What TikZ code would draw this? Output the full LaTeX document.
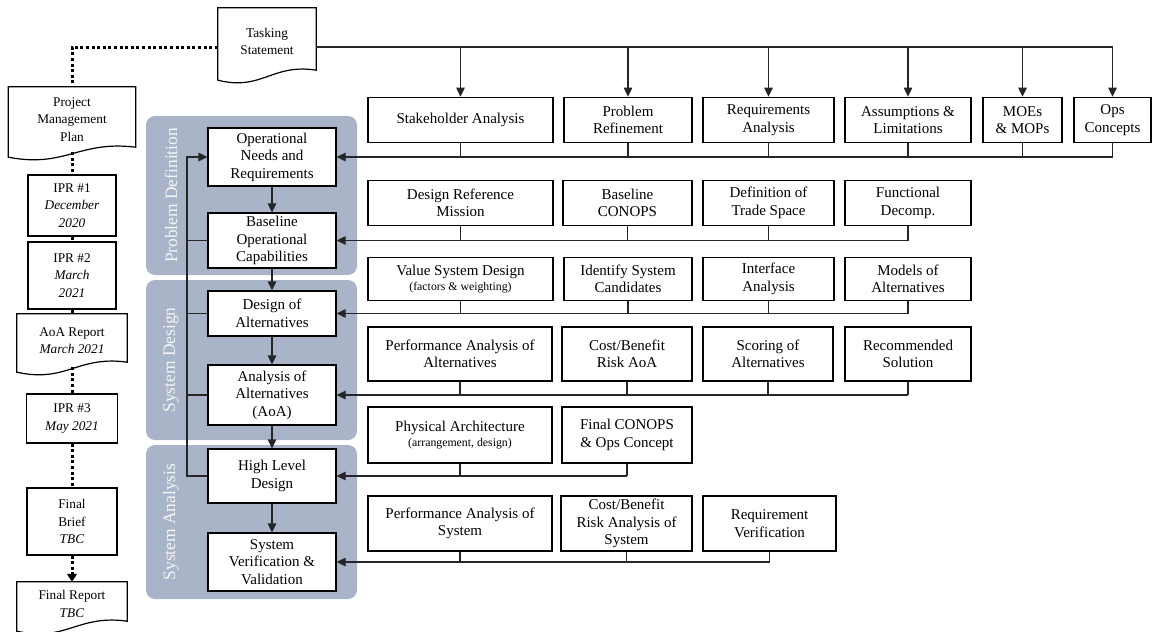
\documentclass[tikz,border=0pt]{standalone}
\usepackage{fontspec}
\setmainfont{Liberation Serif}
\usetikzlibrary{arrows.meta,calc}
\definecolor{panelc}{RGB}{169,180,200}
\newcommand\docoutline[1]{%
 \draw[docline] ($(#1.south west)+(0,5)$) -- (#1.north west) -- (#1.north east) -- ($(#1.south east)+(0,-5)$)
   .. controls ($(#1.south east)!0.45!(#1.south west)+(0,-12)$) and ($(#1.south west)!0.45!(#1.south east)+(0,16)$) .. ($(#1.south west)+(0,5)$) -- cycle;}
\newcommand\subtxt[1]{{\fontsize{11.8}{13}\selectfont #1}}
\begin{document}
\begin{tikzpicture}[x=1pt,y=-1pt,
  box/.style={draw=black, line width=1.2pt, fill=white, inner sep=0pt, align=center, font=\fontsize{15}{17.5}\selectfont},
  lbox/.style={box, font=\fontsize{13.3}{17.5}\selectfont},
  docnode/.style={inner sep=0pt, align=center, font=\fontsize{13.3}{17.5}\selectfont},
  docline/.style={draw=black, line width=1.2pt},
  conn/.style={draw=black!85, line width=1.2pt},
  arr/.style={conn, -{Triangle[width=8.5pt,length=9pt]}},
  dots/.style={draw=black, line width=3pt, dash pattern=on 3pt off 2.6pt},
  panel/.style={fill=panelc, rounded corners=9pt, inner sep=0pt},
  plabel/.style={rotate=90, text=white!88!panelc, font=\fontsize{17.4}{20}\selectfont},
]
\useasboundingbox (0,0) rectangle (1152,632);

% panels
\node[panel, minimum width=211pt, minimum height=159pt] (pdp) at (251.5,195.5) {};
\node[panel, minimum width=211pt, minimum height=160pt] (sdp) at (251.5,360) {};
\node[panel, minimum width=211pt, minimum height=154pt] (sap) at (251.5,522) {};
\node[plabel] (pdl) at (171,195.5) {Problem Definition};
\node[plabel] (sdl) at (171,360) {System Design};
\node[plabel] (sal) at (171,522) {System Analysis};

% document shapes
\node[docnode, minimum width=98pt, minimum height=67pt] (ts) at (267,41.5) {Tasking\\Statement};
\docoutline{ts}
\node[docnode, minimum width=127pt, minimum height=65pt] (pmp) at (72,119.5) {Project\\Management\\Plan};
\docoutline{pmp}
\node[docnode, minimum width=110pt, minimum height=53pt] (aoar) at (72,340.5) {AoA Report\\\textit{March 2021}};
\docoutline{aoar}
\node[docnode, minimum width=110pt, minimum height=44pt] (fr) at (72,604) {Final Report\\\textit{TBC}};
\docoutline{fr}

% left column boxes
\node[lbox, minimum width=88pt, minimum height=61pt] (ipr1) at (72,205.5) {IPR \#1\\\textit{December}\\\textit{2020}};
\node[lbox, minimum width=88pt, minimum height=67pt] (ipr2) at (72,275.5) {IPR \#2\\\textit{March}\\\textit{2021}};
\node[lbox, minimum width=91pt, minimum height=49pt] (ipr3) at (72,418.5) {IPR \#3\\\textit{May 2021}};
\node[lbox, minimum width=90pt, minimum height=67pt] (fb) at (72,521.5) {Final\\Brief\\\textit{TBC}};

\coordinate (tsl) at ($(ts.west)+(0,5.5)$);
\coordinate (tsr) at ($(ts.east)+(0,5.5)$);
\draw[dots] (tsl) -| (pmp.north);
\draw[dots] (pmp.south) -- (ipr1.north);
\draw[dots] (ipr1.south) -- (ipr2.north);
\draw[dots] (ipr2.south) -- (aoar.north);
\draw[dots] (aoar.south) -- (ipr3.north);
\draw[dots] (ipr3.south) -- (fb.north);
\draw[dots, -{Triangle[width=10pt,length=8pt,line width=0.4pt]}] (fb.south) -- (fr.north);

% central process boxes
\node[box, minimum width=128pt, minimum height=58pt] (onr) at (272,157) {Operational\\Needs and\\Requirements};
\node[box, minimum width=128pt, minimum height=55pt] (boc) at (272,240.5) {Baseline\\Operational\\Capabilities};
\node[box, minimum width=128pt, minimum height=45pt] (doa) at (272,313.5) {Design of\\Alternatives};
\node[box, minimum width=128pt, minimum height=60pt] (aoa) at (272,395) {Analysis of\\Alternatives\\(AoA)};
\node[box, minimum width=128pt, minimum height=54pt] (hld) at (272,476) {High Level\\Design};
\node[box, minimum width=128pt, minimum height=58pt] (svv) at (272,562) {System\\Verification \&\\Validation};

\draw[arr] (onr.south) -- (boc.north);
\draw[arr] (boc.south) -- (doa.north);
\draw[arr] (doa.south) -- (aoa.north);
\draw[arr] (aoa.south) -- (hld.north);
\draw[arr] (hld.south) -- (svv.north);

\coordinate (fbx) at (187,0);
\draw[conn] (boc.west) -- (boc.west -| fbx);
\draw[conn] (doa.west) -- (doa.west -| fbx);
\draw[conn] (aoa.west) -- (aoa.west -| fbx);
\draw[arr] (hld.west) -- (hld.west -| fbx) |- (onr.west);

% row 1
\node[box, minimum width=185pt, minimum height=45.5pt] (sah) at (460.5,120) {Stakeholder Analysis};
\node[box, minimum width=128pt, minimum height=45.5pt] (prf) at (628,120) {Problem\\Refinement};
\node[box, minimum width=131pt, minimum height=45.5pt] (req) at (768.5,120) {Requirements\\Analysis};
\node[box, minimum width=126pt, minimum height=45.5pt] (asl) at (908,120) {Assumptions \&\\Limitations};
\node[box, minimum width=79pt, minimum height=45.5pt] (moe) at (1022.5,120) {MOEs\\\& MOPs};
\node[box, minimum width=77pt, minimum height=45.5pt] (opc) at (1112.5,120) {Ops\\Concepts};
% row 2
\node[box, minimum width=185pt, minimum height=45.5pt] (drm) at (460.5,203) {Design Reference\\Mission};
\node[box, minimum width=129pt, minimum height=45.5pt] (bco) at (627.5,203) {Baseline\\CONOPS};
\node[box, minimum width=131pt, minimum height=45.5pt] (dts) at (768.5,203) {Definition of\\Trade Space};
\node[box, minimum width=126pt, minimum height=45.5pt] (fdc) at (908,203) {Functional\\Decomp.};
% row 3
\node[box, minimum width=185pt, minimum height=43.5pt] (vsd) at (460.5,279) {Value System Design\\[-3pt]\subtxt{(factors \& weighting)}};
\node[box, minimum width=128pt, minimum height=43.5pt] (isc) at (628,279) {Identify System\\Candidates};
\node[box, minimum width=131pt, minimum height=43.5pt] (ifa) at (768.5,279) {Interface\\Analysis};
\node[box, minimum width=126pt, minimum height=43.5pt] (moa) at (908,279) {Models of\\Alternatives};
% row 4
\node[box, minimum width=184pt, minimum height=54pt] (paa) at (460,354) {Performance Analysis of\\Alternatives};
\node[box, minimum width=130pt, minimum height=54pt] (cba) at (627,354) {Cost/Benefit\\Risk AoA};
\node[box, minimum width=130pt, minimum height=54pt] (soa) at (768,354) {Scoring of\\Alternatives};
\node[box, minimum width=126pt, minimum height=54pt] (rso) at (908,354) {Recommended\\Solution};
% row 5
\node[box, minimum width=184pt, minimum height=56pt] (phy) at (460,435) {Physical Architecture\\[-3pt]\subtxt{(arrangement, design)}};
\node[box, minimum width=130pt, minimum height=56pt] (fco) at (627,435) {Final CONOPS\\\& Ops Concept};
% row 6
\node[box, minimum width=184pt, minimum height=55pt] (pas) at (460,523.5) {Performance Analysis of\\System};
\node[box, minimum width=131pt, minimum height=55pt] (cbs) at (626.5,523.5) {Cost/Benefit\\Risk Analysis of\\System};
\node[box, minimum width=133pt, minimum height=55pt] (rve) at (769.5,523.5) {Requirement\\Verification};

% tasking statement distribution
\draw[conn] (tsr) -- (tsr -| opc.north);
\foreach \n in {sah,prf,req,asl,moe,opc} \draw[arr] (tsr -| \n.north) -- (\n.north);

% collectors
\foreach \n in {sah,prf,req,asl,moe,opc} \draw[conn] (\n.south) -- (\n.south |- onr.east);
\draw[arr] (opc.south |- onr.east) -- (onr.east);
\foreach \n in {drm,bco,dts,fdc} \draw[conn] (\n.south) -- (\n.south |- boc.east);
\draw[arr] (fdc.south |- boc.east) -- (boc.east);
\foreach \n in {vsd,isc,ifa,moa} \draw[conn] (\n.south) -- (\n.south |- doa.east);
\draw[arr] (moa.south |- doa.east) -- (doa.east);
\foreach \n in {paa,cba,soa,rso} \draw[conn] (\n.south) -- (\n.south |- aoa.east);
\draw[arr] (rso.south |- aoa.east) -- (aoa.east);
\foreach \n in {phy,fco} \draw[conn] (\n.south) -- (\n.south |- hld.east);
\draw[arr] (fco.south |- hld.east) -- (hld.east);
\foreach \n in {pas,cbs,rve} \draw[conn] (\n.south) -- (\n.south |- svv.east);
\draw[arr] (rve.south |- svv.east) -- (svv.east);
\end{tikzpicture}
\end{document}
